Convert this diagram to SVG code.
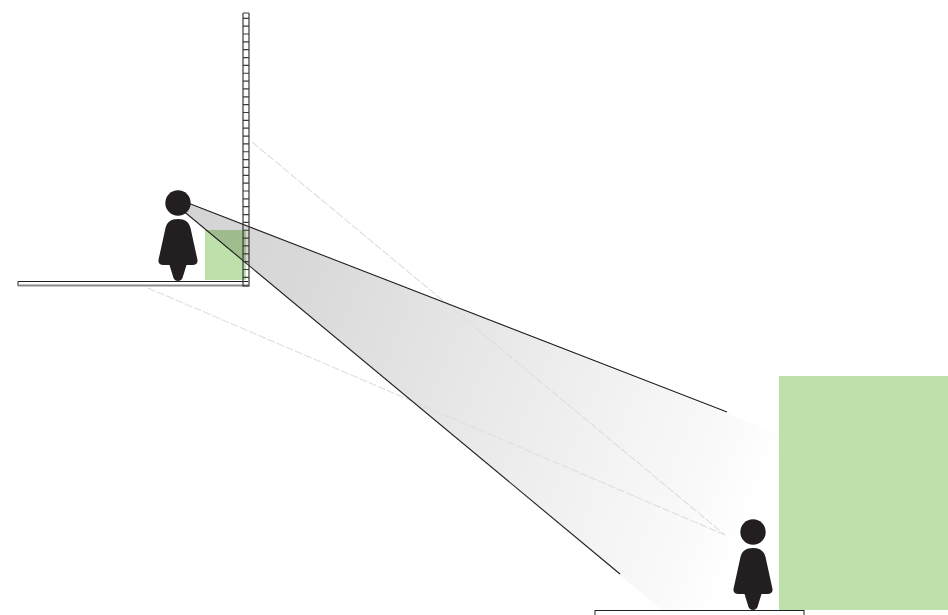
<svg xmlns="http://www.w3.org/2000/svg" width="948" height="615" viewBox="0 0 948 615">
<style>
.fig{fill:#231f20}
.green{fill:#bee0ab}
.ray{stroke:#231f20;stroke-width:1.1;fill:none}
.dash{stroke:#dedede;stroke-width:1.1;stroke-dasharray:8 2;fill:none}
.floor{fill:#fff;stroke:#231f20;stroke-width:1}
.ladder{stroke:#3a3a3a;stroke-width:1.200;fill:none}
</style>
<defs>
<linearGradient id="beam" gradientUnits="userSpaceOnUse" x1="190" y1="205" x2="783" y2="442">
<stop offset="0" stop-color="#d4d4d4"/>
<stop offset="0.21" stop-color="#d9d9d9"/>
<stop offset="0.48" stop-color="#e6e6e6"/>
<stop offset="0.78" stop-color="#f4f4f4"/>
<stop offset="0.9" stop-color="#f9f9f9"/>
<stop offset="1" stop-color="#ffffff"/>
</linearGradient>
<g id="person">
<circle cx="178" cy="203" r="12.7"/>
<path d="M178 219C171 219 167 222 165.500 228L158.800 258.500C157.500 263 160 265 164 265H169.500L173.500 278C175 282 181 282 182.500 278L186.500 265H192C196 265 198.500 263 197.200 258.500L190.500 228C189 222 185 219 178 219Z"/>
</g>
</defs>
<g id="beam-fill">
<polygon points="188,203 800,442 800,615 668,615 181,209" fill="url(#beam)"/>
</g>
<g id="connectors">
<line class="dash" x1="252" y1="142" x2="725" y2="535"/>
<line class="dash" x1="148" y1="288" x2="725" y2="535"/>
<line class="ray" x1="188" y1="203" x2="727" y2="412"/>
<line class="ray" x1="181" y1="209" x2="620" y2="574"/>
</g>
<g id="green-near"><rect class="green" x="205" y="230" width="41" height="50" style="mix-blend-mode:multiply"/></g>
<g id="green-far"><rect class="green" x="779" y="376" width="169" height="234"/></g>
<g id="floor-near">
<rect x="18" y="281" width="230" height="5.500" fill="#fff"/>
<path d="M18 286V281.500H248" fill="none" stroke="#231f20" stroke-width="1"/>
<path d="M18 285.500H248" fill="none" stroke="#8a8a8a" stroke-width="2"/>
</g>
<g id="floor-far"><rect class="floor" x="595" y="610.500" width="209" height="10"/></g>
<g id="ladder">
<path class="ladder" d="M243 13V286.500M249 13V286.500"/>
<path class="ladder" d="M243 13H249M243 18.300H249M243 26.150H249M243 34H249M243 41.850H249M243 49.700H249M243 57.550H249M243 65.400H249M243 73.250H249M243 81.100H249M243 88.950H249M243 96.800H249M243 104.650H249M243 112.500H249M243 120.350H249M243 128.200H249M243 136.050H249M243 143.900H249M243 151.750H249M243 159.600H249M243 167.450H249M243 175.300H249M243 183.150H249M243 191H249M243 198.850H249M243 206.700H249M243 214.550H249M243 222.400H249M243 230.250H249M243 238.100H249M243 245.950H249M243 253.800H249M243 261.650H249M243 269.500H249M243 277.350H249M243 285.800H249"/>
</g>
<g id="person-near" class="fig"><use href="#person"/></g>
<g id="person-far" class="fig"><use href="#person" x="575" y="329"/></g>
</svg>
